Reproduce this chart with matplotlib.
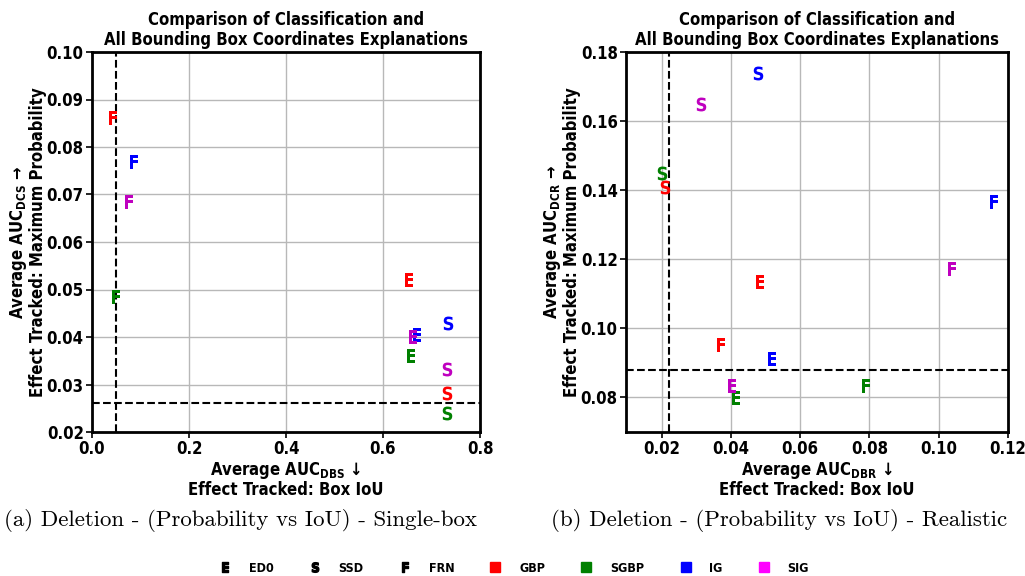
import matplotlib
matplotlib.use("Agg")
import matplotlib.pyplot as plt
from matplotlib.lines import Line2D
from matplotlib.patches import Patch
from matplotlib.ticker import FormatStrFormatter

plt.rcParams['font.family'] = ['DejaVu Sans']
plt.rcParams['font.weight'] = 'bold'
plt.rcParams['font.stretch'] = 'condensed'
plt.rcParams['mathtext.fontset'] = 'dejavusans'
plt.rcParams['mathtext.default'] = 'bf'

# ---------------- data ----------------
models = ['ED0', 'SSD', 'FRN']
model_letters = ['E', 'S', 'F']
methods = ['GBP', 'SGBP', 'IG', 'SIG']
point_colors = ['#ff0000', '#008000', '#0000ff', '#bf00bf']
legend_colors = ['#ff0000', '#008000', '#0000ff', '#ff00ff']

# panel (a) single-box: rows = methods, cols = models (ED0, SSD, FRN)
a_box_auc = [
    [0.654, 0.732, 0.043],   # GBP
    [0.658, 0.732, 0.049],   # SGBP
    [0.670, 0.734, 0.087],   # IG
    [0.662, 0.732, 0.076],   # SIG
]
a_cls_auc = [
    [0.0520, 0.0282, 0.0861],
    [0.0360, 0.0240, 0.0484],
    [0.0404, 0.0429, 0.0768],
    [0.0400, 0.0333, 0.0684],
]
a_ref_x = 0.049
a_ref_y = 0.0261

# panel (b) realistic
b_box_auc = [
    [0.0484, 0.0210, 0.0371],
    [0.0415, 0.0201, 0.0790],
    [0.0519, 0.0478, 0.1160],
    [0.0403, 0.0314, 0.1039],
]
b_cls_auc = [
    [0.1134, 0.1408, 0.0951],
    [0.0797, 0.1448, 0.0832],
    [0.0910, 0.1739, 0.1364],
    [0.0832, 0.1649, 0.1172],
]
b_ref_x = 0.0222
b_ref_y = 0.0878

a_xticks = [0.0, 0.2, 0.4, 0.6, 0.8]
a_yticks = [0.02, 0.03, 0.04, 0.05, 0.06, 0.07, 0.08, 0.09, 0.10]
b_xticks = [0.02, 0.04, 0.06, 0.08, 0.10, 0.12]
b_yticks = [0.08, 0.10, 0.12, 0.14, 0.16, 0.18]

title = 'Comparison of Classification and\nAll Bounding Box Coordinates Explanations'
a_xlabel = 'Average AUC$_{DBS}$ ↓\nEffect Tracked: Box IoU'
a_ylabel = 'Average AUC$_{DCS}$ →\nEffect Tracked: Maximum Probability'
b_xlabel = 'Average AUC$_{DBR}$ ↓\nEffect Tracked: Box IoU'
b_ylabel = 'Average AUC$_{DCR}$ →\nEffect Tracked: Maximum Probability'
a_caption = '(a) Deletion - (Probability vs IoU) - Single-box'
b_caption = '(b) Deletion - (Probability vs IoU) - Realistic'

# ---------------- figure ----------------
fig = plt.figure(figsize=(10.25, 5.76), dpi=100)
H = 576.0
W = 1025.0
ax_a = fig.add_axes([92 / W, 1 - 432 / H, (480 - 92) / W, (432 - 52) / H])
ax_b = fig.add_axes([626 / W, 1 - 432 / H, (1008 - 626) / W, (432 - 52) / H])


def draw_panel(ax, xs, ys, refx, refy, xlim, ylim, xticks, yticks, xfmt, yfmt, xlabel, ylabel):
    ax.set_axisbelow(True)
    ax.grid(True, color='#b8b8b8', linewidth=1.0)
    for i, m in enumerate(methods):
        for j, letter in enumerate(model_letters):
            ax.scatter([xs[i][j]], [ys[i][j]], marker=r'$\mathbf{%s}$' % letter,
                       s=100, color=point_colors[i], linewidths=0, zorder=3)
    ax.axvline(refx, color='black', linestyle='--', linewidth=1.5, zorder=2)
    ax.axhline(refy, color='black', linestyle='--', linewidth=1.5, zorder=2)
    ax.set_xlim(*xlim)
    ax.set_ylim(*ylim)
    ax.set_xticks(xticks)
    ax.set_yticks(yticks)
    ax.xaxis.set_major_formatter(FormatStrFormatter(xfmt))
    ax.yaxis.set_major_formatter(FormatStrFormatter(yfmt))
    ax.tick_params(labelsize=12, width=1.2, length=4, pad=2)
    for lab in ax.get_xticklabels() + ax.get_yticklabels():
        lab.set_fontweight('bold')
    for sp in ax.spines.values():
        sp.set_linewidth(2.0)
    ax.set_title(title, fontsize=12, fontweight='bold', pad=5, linespacing=1.15)
    ax.set_xlabel(xlabel, fontsize=12, fontweight='bold', labelpad=1, linespacing=1.0)
    ax.set_ylabel(ylabel, fontsize=12, fontweight='bold', labelpad=0, linespacing=1.0)


draw_panel(ax_a, a_box_auc, a_cls_auc, a_ref_x, a_ref_y, (0.0, 0.8), (0.02, 0.10),
           a_xticks, a_yticks, '%.1f', '%.2f', a_xlabel, a_ylabel)
draw_panel(ax_b, b_box_auc, b_cls_auc, b_ref_x, b_ref_y, (0.0097, 0.12), (0.0698, 0.18),
           b_xticks, b_yticks, '%.2f', '%.2f', b_xlabel, b_ylabel)

# captions
fig.text(240 / W, 1 - 521 / H, a_caption, ha='center', va='center', fontsize=16.5,
         family='cmr10', fontweight='normal', fontstretch='normal')
fig.text(779 / W, 1 - 521 / H, b_caption, ha='center', va='center', fontsize=16.5,
         family='cmr10', fontweight='normal', fontstretch='normal')

# legend
handles = []
for letter in model_letters:
    handles.append(Line2D([], [], linestyle='none', marker=r'$\mathbf{%s}$' % letter,
                          color='black', markersize=7))
for c in legend_colors:
    handles.append(Patch(facecolor=c, edgecolor=c))
labels = models + methods
fig.legend(handles, labels, loc='center', bbox_to_anchor=(0.502, 1 - 568 / H), ncol=7,
           frameon=False, prop={'size': 9, 'weight': 'bold', 'stretch': 'condensed'},
           handlelength=0.8, handleheight=0.9, columnspacing=2.9, handletextpad=1.5)

fig.savefig('out.png', dpi=100)
